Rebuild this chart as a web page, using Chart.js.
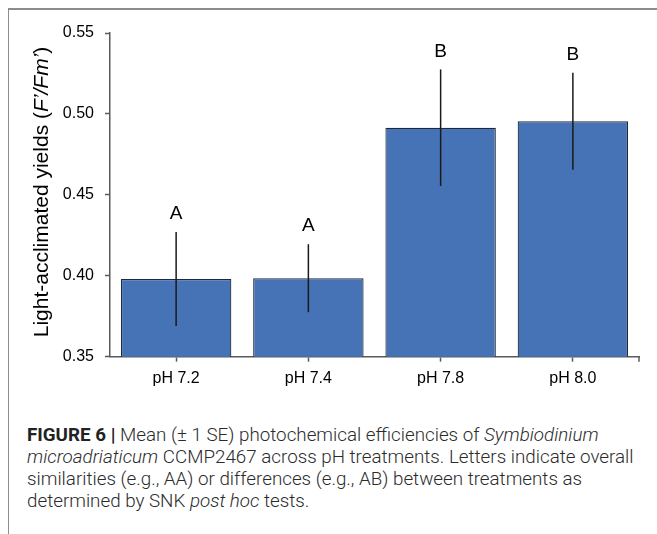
<!DOCTYPE html>
<html>
<head>
<meta charset="utf-8">
<script src="https://cdn.jsdelivr.net/npm/chart.js@4"></script>
<style>
    html, body { margin: 0; padding: 0; background: #fff; }
    body { width: 657px; height: 534px; position: relative; overflow: hidden; }
    #frame {
        position: absolute; left: 8px; top: 8px; right: 0; bottom: 0;
        border-top: 2px solid #8c8c8c; border-left: 1.5px solid #8c8c8c;
    }
    #chart-box { position: absolute; left: 0; top: 0; width: 657px; height: 400px; }
    #caption {
        position: absolute; left: 27px; top: 424px; width: 630px;
        font-family: "Roboto", "Liberation Sans", sans-serif; font-weight: 300;
        font-size: 18.8px; line-height: 22px; color: #2b2b2b; white-space: nowrap;
    }
    #caption b { font-weight: 700; color: #222; }
</style>
</head>
<body>
<div id="frame"></div>
<div id="chart-box"><canvas id="yield-chart"></canvas></div>
<div id="caption">
    <b>FIGURE 6 |</b> Mean (± 1 SE) photochemical efficiencies of <i>Symbiodinium</i><br>
    <i>microadriaticum</i> CCMP2467 across pH treatments. Letters indicate overall<br>
    similarities (e.g., AA) or differences (e.g., AB) between treatments as<br>
    determined by SNK <i>post hoc</i> tests.
</div>
<script>
// Chart data
const treatments = ['pH 7.2', 'pH 7.4', 'pH 7.8', 'pH 8.0'];
const meanYield = [0.398, 0.3985, 0.4915, 0.4955];
const stdError = [0.029, 0.021, 0.036, 0.030];
const groupLetters = ['A', 'A', 'B', 'B'];
const yTicks = [0.35, 0.40, 0.45, 0.50, 0.55];

const AXIS_COLOR = '#5a5a5a';
const FONT = '"Liberation Sans", Arial, sans-serif';

// y axis title, with the italic part
const titleParts = [
    { text: 'Light-acclimated yields (', italic: false },
    { text: 'F’/Fm’', italic: true },
    { text: ')', italic: false }
];

// Error bars, significance letters, axis title
const errorBarPlugin = {
    id: 'errorBars',
    afterDatasetsDraw(chart) {
        const ctx = chart.ctx;
        const yScale = chart.scales.y;
        const meta = chart.getDatasetMeta(0);
        ctx.save();
        meta.data.forEach((bar, i) => {
            const top = yScale.getPixelForValue(meanYield[i] + stdError[i]);
            const bottom = yScale.getPixelForValue(meanYield[i] - stdError[i]);
            ctx.strokeStyle = '#1a1a1a';
            ctx.lineWidth = 1.5;
            ctx.beginPath();
            ctx.moveTo(bar.x, top);
            ctx.lineTo(bar.x, bottom);
            ctx.stroke();

            ctx.fillStyle = '#000';
            ctx.font = '19px ' + FONT;
            ctx.textAlign = 'center';
            ctx.textBaseline = 'middle';
            ctx.fillText(groupLetters[i], bar.x, top - 18);
        });
        ctx.restore();
    },
    afterDraw(chart) {
        const ctx = chart.ctx;
        const area = chart.chartArea;
        ctx.save();
        // end tick at right of x axis
        ctx.strokeStyle = AXIS_COLOR;
        ctx.lineWidth = 1.5;
        ctx.beginPath();
        ctx.moveTo(area.right, area.bottom);
        ctx.lineTo(area.right, area.bottom + 5);
        ctx.stroke();

        // rotated y title
        const size = 21;
        const fontOf = (p) => (p.italic ? 'italic ' : '') + size + 'px ' + FONT;
        let total = 0;
        titleParts.forEach(p => { ctx.font = fontOf(p); total += ctx.measureText(p.text).width; });
        ctx.translate(48, 192);
        ctx.rotate(-Math.PI / 2);
        ctx.fillStyle = '#000';
        ctx.textAlign = 'left';
        ctx.textBaseline = 'alphabetic';
        let x = -total / 2;
        titleParts.forEach(p => {
            ctx.font = fontOf(p);
            ctx.fillText(p.text, x, 0);
            x += ctx.measureText(p.text).width;
        });
        ctx.restore();
    }
};

const ctx = document.getElementById('yield-chart').getContext('2d');
new Chart(ctx, {
    type: 'bar',
    data: {
        labels: treatments,
        datasets: [{
            data: meanYield,
            backgroundColor: '#4673b6',
            borderColor: '#1e2a3a',
            borderWidth: 1.2,
            categoryPercentage: 1,
            barPercentage: 0.835
        }]
    },
    options: {
        responsive: true,
        maintainAspectRatio: false,
        animation: false,
        events: [],
        layout: { padding: { left: 31, top: 33, right: 18, bottom: 0 } },
        plugins: {
            legend: { display: false },
            tooltip: { enabled: false }
        },
        scales: {
            x: {
                afterFit: (scale) => { scale.height = 43.3; },
                grid: {
                    offset: false,
                    drawOnChartArea: false,
                    tickLength: 5,
                    tickColor: AXIS_COLOR,
                    tickWidth: 1.5
                },
                border: { color: AXIS_COLOR, width: 1.5 },
                ticks: {
                    color: '#000',
                    padding: 7,
                    font: { family: FONT, size: 16 }
                }
            },
            y: {
                min: 0.35,
                max: 0.55,
                afterFit: (scale) => { scale.width = 79; },
                afterBuildTicks: (scale) => {
                    scale.ticks = yTicks.map(v => ({ value: v }));
                },
                grid: {
                    drawOnChartArea: false,
                    tickLength: 5,
                    tickColor: AXIS_COLOR,
                    tickWidth: 1.5
                },
                border: { color: AXIS_COLOR, width: 1.5 },
                ticks: {
                    color: '#000',
                    padding: 11,
                    font: { family: FONT, size: 16 },
                    callback: (v) => v.toFixed(2)
                }
            }
        }
    },
    plugins: [errorBarPlugin]
});
</script>
</body>
</html>
